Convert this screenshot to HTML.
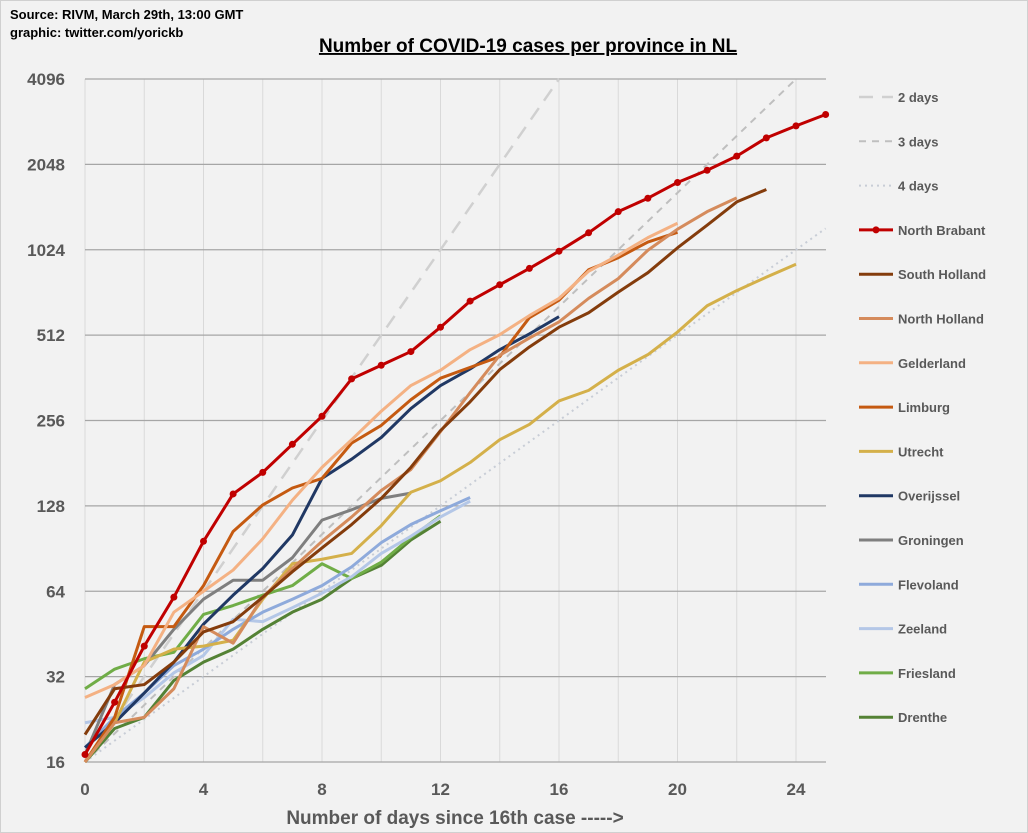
<!DOCTYPE html>
<html><head><meta charset="utf-8"><style>
body{margin:0;background:#f2f2f2;}
svg{display:block;font-family:"Liberation Sans",Arial,sans-serif;}
</style></head><body>
<svg id="chart" width="1028" height="833" viewBox="0 0 1028 833" xmlns="http://www.w3.org/2000/svg">
<rect x="0.5" y="0.5" width="1027" height="832" fill="#f2f2f2" stroke="#d0d0d0"/>
<text x="10" y="19" font-size="13" font-weight="bold" fill="#000">Source: RIVM, March 29th, 13:00  GMT</text>
<text x="10" y="37" font-size="13" font-weight="bold" fill="#000">graphic: twitter.com/yorickb</text>
<text x="528" y="52" font-size="19" font-weight="bold" text-anchor="middle" fill="#000" text-decoration="underline">Number of COVID-19 cases per province in NL</text>
<g id="grid"></g>
<g id="series"></g>
<g id="legend"></g>
<text x="455" y="824" font-size="19" font-weight="bold" text-anchor="middle" fill="#595959">Number of days since 16th case  -----&gt;</text>
</svg>
<script>
const xTicks=[0,4,8,12,16,20,24];
const yTicks=[16,32,64,128,256,512,1024,2048,4096];
const days2=[0,16];
const days3=[0,24];
const days4=[0,25];
const northBrabant=[17,26,41,61,96,141,168,211,265,359,401,448,546,675,771,880,1012,1175,1395,1556,1768,1952,2190,2540,2800,3070];
const southHolland=[20,29,30,36,46,50,61,75,91,110,136,175,236,298,387,465,546,614,726,850,1040,1250,1510,1670];
const northHolland=[16,22,23,29,48,42,61,77,96,117,145,172,234,321,435,500,570,690,810,1020,1210,1395,1560];
const gelderland=[27,30,35,54,64,76,98,134,175,219,276,340,385,455,514,600,690,860,980,1130,1270];
const limburg=[16,23,48,48,67,104,129,148,160,213,246,303,361,394,430,590,680,870,960,1090,1180];
const utrecht=[16,22,36,40,41,43,60,80,83,87,109,143,157,182,219,248,300,327,385,437,525,650,735,820,910];
const overijssel=[18,22,28,36,49,62,77,101,160,187,223,282,340,389,455,517,595];
const groningen=[17,30,35,47,60,70,70,84,114,124,136,142];
const flevoland=[18,23,28,35,40,47,54,60,67,78,95,110,123,137];
const zeeland=[22,23,27,33,38,51,50,56,63,72,87,100,117,133];
const friesland=[29,34,37,39,53,57,62,67,80,71,81,99,118];
const drenthe=[16,21,23,31,36,40,47,54,60,71,79,97,113];

const X0=85,XS=29.625,Y0=762,YS=85.375;
const xs=d=>X0+d*XS;
const ys=v=>Y0-Math.log2(v/16)*YS;
const NS="http://www.w3.org/2000/svg";
function mk(tag,attrs,parent){const e=document.createElementNS(NS,tag);for(const k in attrs)e.setAttribute(k,attrs[k]);parent.appendChild(e);return e;}
const grid=document.getElementById('grid');
for(let d=0;d<=25;d+=2){
  const l=mk('line',{x1:xs(d),x2:xs(d),y1:ys(4096),y2:ys(16),stroke:'#d9d9d9','stroke-width':1},grid);
  
  
}
yTicks.forEach(v=>{
  const l=mk('line',{x1:X0,x2:826,y1:ys(v),y2:ys(v),stroke:'#a6a6a6','stroke-width':1.3},grid);
  
  
  const t=mk('text',{x:65,y:ys(v)+6,'font-size':17,'font-weight':'bold','text-anchor':'end',fill:'#595959'},grid);
  t.textContent=v;
  
  
});
xTicks.forEach(d=>{
  const t=mk('text',{x:xs(d),y:795,'font-size':17,'font-weight':'bold','text-anchor':'middle',fill:'#595959'},grid);
  t.textContent=d;
  
  
});
const sg=document.getElementById('series');
function refLine(r,days,style,name){
  const d1=r[1],v=16*Math.pow(2,d1/days);
  const l=mk('line',Object.assign({x1:xs(r[0]),y1:ys(16),x2:xs(d1),y2:ys(v),fill:'none'},style),sg);
  
  
}
const st2={stroke:'#d0d0d0','stroke-width':2.5,'stroke-dasharray':'14 9'};
const st3={stroke:'#bfbfbf','stroke-width':2,'stroke-dasharray':'7 6'};
const st4={stroke:'#c8cdd6','stroke-width':2,'stroke-dasharray':'2 4'};
refLine(days2,2,st2,'ref-2-days');
refLine(days3,3,st3,'ref-3-days');
refLine(days4,4,st4,'ref-4-days');
const series=[
 ['North Brabant',northBrabant,'#c00000',true],
 ['South Holland',southHolland,'#843c0c'],
 ['North Holland',northHolland,'#d58b5c'],
 ['Gelderland',gelderland,'#f4b183'],
 ['Limburg',limburg,'#c55a11'],
 ['Utrecht',utrecht,'#d4b04a'],
 ['Overijssel',overijssel,'#203864'],
 ['Groningen',groningen,'#7f7f7f'],
 ['Flevoland',flevoland,'#8eaadb'],
 ['Zeeland',zeeland,'#b4c7e7'],
 ['Friesland',friesland,'#70ad47'],
 ['Drenthe',drenthe,'#548235']
];
const draw=series.slice(1).reverse().concat([series[0]]);
draw.forEach(([n,vals,c,m])=>{
  const p=mk('polyline',{points:vals.map((v,i)=>xs(i)+','+ys(v)).join(' '),fill:'none',stroke:c,'stroke-width':3,'stroke-linejoin':'round'},sg);
  
  
  if(m)vals.forEach((v,i)=>{
    const ci=mk('circle',{cx:xs(i),cy:ys(v),r:3.5,fill:c},sg);
    
    
  });
});
const lg=document.getElementById('legend');
const entries=[['2 days',st2],['3 days',st3],['4 days',st4]].concat(series.map(s=>[s[0],{stroke:s[2],'stroke-width':3},s[3]]));
entries.forEach(([n,style,m],i)=>{
  const y=97+i*44.3;
  const g=mk('g',{},lg);
  
  
  mk('line',Object.assign({x1:859,x2:893,y1:y,y2:y},style),g);
  if(m)mk('circle',{cx:876,cy:y,r:3.5,fill:'#c00000'},g);
  const t=mk('text',{x:898,y:y+5,'font-size':13,'font-weight':'bold',fill:'#595959'},g);
  t.textContent=n;
});
</script>
</body></html>
